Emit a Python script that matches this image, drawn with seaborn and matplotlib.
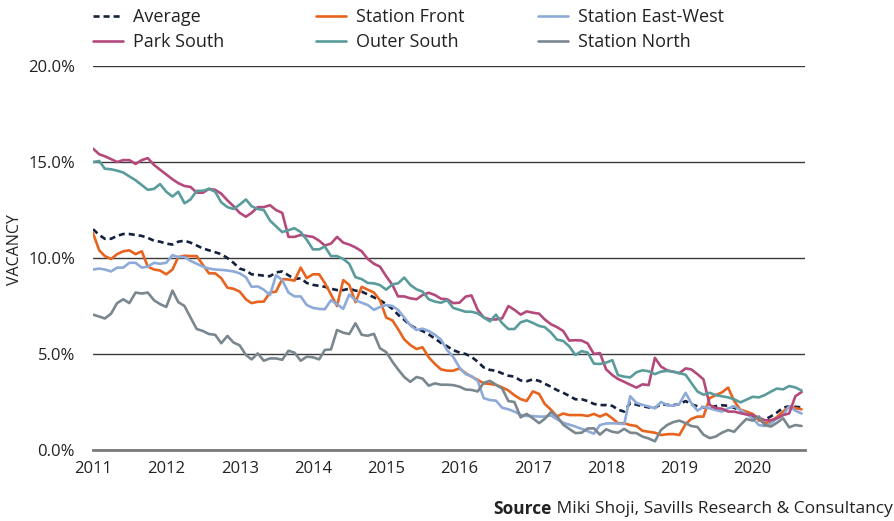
import matplotlib
matplotlib.use("Agg")
from matplotlib import pyplot as plt
import matplotlib.dates as mdates
from matplotlib.ticker import FuncFormatter
import seaborn as sns
import pandas as pd

# monthly observations, Jan 2011 - Sep 2020 (vacancy, %)
months = pd.date_range("2011-01-01", periods=117, freq="MS")

average = [
    11.5, 11.2, 11.0, 11.0, 11.15, 11.25, 11.25, 11.2, 11.15, 11.05, 10.9, 10.85,
    10.75, 10.7, 10.85, 10.9, 10.8, 10.65, 10.5, 10.4, 10.3, 10.2, 10.0, 9.75,
    9.45, 9.35, 9.15, 9.12, 9.08, 9.05, 9.25, 9.3, 9.1, 8.9, 8.95, 8.7,
    8.6, 8.55, 8.5, 8.4, 8.33, 8.33, 8.4, 8.3, 8.25, 8.1, 7.95, 7.8,
    7.6, 7.35, 7.05, 6.78, 6.5, 6.32, 6.2, 6.02, 5.8, 5.58, 5.4, 5.2,
    5.08, 5.0, 4.85, 4.6, 4.3, 4.17, 4.13, 3.99, 3.87, 3.82, 3.62, 3.58,
    3.68, 3.6, 3.45, 3.3, 3.12, 2.98, 2.82, 2.64, 2.64, 2.55, 2.4, 2.34,
    2.34, 2.3, 2.1, 2.0, 2.45, 2.36, 2.28, 2.22, 2.2, 2.38, 2.35, 2.34,
    2.38, 2.55, 2.38, 2.28, 2.22, 2.24, 2.28, 2.33, 2.3, 2.2, 2.05, 1.9,
    1.7, 1.55, 1.58, 1.75, 1.95, 2.2, 2.28, 2.25, 2.22,
]
station_front = [
    11.3, 10.4, 10.1, 9.95, 10.2, 10.35, 10.4, 10.2, 10.35, 9.55, 9.4, 9.35,
    9.15, 9.4, 10.05, 10.12, 10.1, 10.1, 9.65, 9.2, 9.2, 8.95, 8.45, 8.4,
    8.25, 7.85, 7.65, 7.72, 7.73, 8.2, 8.25, 8.9, 8.88, 8.82, 9.5, 8.95,
    9.15, 9.15, 8.7, 8.1, 7.5, 8.85, 8.6, 7.7, 8.5, 8.35, 8.2, 7.8,
    6.9, 6.75, 6.3, 5.76, 5.47, 5.26, 5.35, 4.83, 4.48, 4.2, 4.13, 4.13,
    4.25, 4.0, 3.82, 3.65, 3.47, 3.44, 3.39, 3.26, 3.1, 2.85, 2.65, 2.55,
    3.05, 2.92, 2.4, 2.1, 1.75, 1.9, 1.82, 1.82, 1.82, 1.77, 1.88, 1.74,
    1.88, 1.65, 1.4, 1.39, 1.3, 1.25, 1.0, 0.95, 0.9, 0.78, 0.82, 0.83,
    0.78, 1.35, 1.62, 1.74, 1.74, 2.7, 2.86, 3.0, 3.25, 2.55, 2.1, 2.0,
    1.88, 1.58, 1.38, 1.48, 1.72, 2.0, 2.25, 2.18, 2.12,
]
station_east_west = [
    9.4, 9.45, 9.4, 9.3, 9.5, 9.5, 9.75, 9.75, 9.5, 9.55, 9.75, 9.7,
    9.75, 10.15, 10.05, 10.05, 9.85, 9.7, 9.55, 9.45, 9.4, 9.38, 9.35, 9.3,
    9.2, 9.0, 8.5, 8.52, 8.35, 8.07, 9.1, 8.85, 8.2, 8.0, 8.0, 7.55,
    7.4, 7.35, 7.33, 7.8, 7.6, 7.35, 8.1, 7.8, 7.67, 7.55, 7.3, 7.45,
    7.55, 7.5, 7.3, 6.9, 6.5, 6.25, 6.32, 6.2, 6.0, 5.75, 5.2, 4.85,
    4.3, 3.95, 3.85, 3.6, 2.7, 2.6, 2.57, 2.2, 2.12, 2.0, 1.83, 1.77,
    1.77, 1.74, 1.74, 1.8, 1.6, 1.42, 1.32, 1.22, 1.1, 0.98, 0.85, 1.3,
    1.38, 1.39, 1.38, 1.35, 2.8, 2.45, 2.35, 2.27, 2.17, 2.5, 2.34, 2.3,
    2.4, 2.98, 2.45, 2.05, 2.25, 2.17, 2.08, 2.0, 2.17, 2.28, 2.08, 1.88,
    1.65, 1.3, 1.25, 1.38, 1.65, 1.82, 2.28, 2.05, 1.9,
]
park_south = [
    15.7, 15.4, 15.3, 15.15, 15.0, 15.1, 15.1, 14.9, 15.1, 15.2, 14.85, 14.6,
    14.35, 14.1, 13.9, 13.75, 13.7, 13.4, 13.4, 13.6, 13.55, 13.35, 13.0, 12.7,
    12.35, 12.15, 12.35, 12.65, 12.65, 12.75, 12.5, 12.35, 11.1, 11.1, 11.2, 11.15,
    11.1, 10.9, 10.65, 10.75, 11.1, 10.8, 10.7, 10.55, 10.35, 9.95, 9.7, 9.55,
    9.05, 8.6, 8.0, 8.0, 7.9, 7.85, 8.07, 8.19, 8.07, 7.88, 7.85, 7.65,
    7.67, 7.99, 8.05, 7.3, 6.9, 6.8, 6.8, 6.86, 7.5, 7.3, 7.05, 7.22,
    7.15, 7.1, 6.8, 6.55, 6.4, 6.2, 5.7, 5.72, 5.7, 5.55, 5.0, 5.05,
    4.2, 3.9, 3.7, 3.55, 3.4, 3.25, 3.42, 3.38, 4.8, 4.35, 4.15, 4.08,
    4.0, 4.25, 4.2, 3.95, 3.68, 2.35, 2.18, 2.15, 2.0, 2.0, 1.92, 1.85,
    1.82, 1.68, 1.55, 1.55, 1.65, 1.82, 1.9, 2.8, 3.02,
]
outer_south = [
    15.0, 15.05, 14.65, 14.62, 14.55, 14.45, 14.25, 14.05, 13.8, 13.55, 13.6, 13.85,
    13.45, 13.2, 13.45, 12.85, 13.05, 13.5, 13.5, 13.6, 13.45, 12.9, 12.65, 12.55,
    12.78, 13.05, 12.7, 12.55, 12.5, 11.95, 11.65, 11.35, 11.45, 11.55, 11.35, 10.95,
    10.45, 10.45, 10.6, 10.1, 10.1, 9.95, 9.7, 9.0, 8.9, 8.7, 8.68, 8.59,
    8.35, 8.63, 8.68, 8.98, 8.6, 8.37, 8.25, 7.85, 7.73, 7.67, 7.8, 7.4,
    7.3, 7.2, 7.2, 7.12, 6.9, 6.7, 7.05, 6.6, 6.3, 6.3, 6.65, 6.75,
    6.62, 6.46, 6.4, 6.12, 5.75, 5.68, 5.4, 4.95, 5.15, 5.07, 4.5, 4.48,
    4.55, 4.68, 3.9, 3.82, 3.78, 4.05, 4.15, 4.1, 3.95, 4.08, 4.12, 4.08,
    4.0, 3.92, 3.5, 3.05, 2.88, 2.98, 2.86, 2.8, 2.74, 2.64, 2.48, 2.62,
    2.77, 2.74, 2.86, 3.04, 3.2, 3.16, 3.33, 3.26, 3.1,
]
station_north = [
    7.05, 6.95, 6.85, 7.1, 7.65, 7.85, 7.65, 8.2, 8.15, 8.2, 7.8, 7.6,
    7.45, 8.3, 7.7, 7.5, 6.9, 6.3, 6.2, 6.04, 6.0, 5.56, 5.94, 5.6,
    5.45, 4.95, 4.72, 5.03, 4.65, 4.77, 4.77, 4.7, 5.17, 5.07, 4.65, 4.86,
    4.83, 4.72, 5.21, 5.24, 6.25, 6.11, 6.04, 6.6, 6.0, 5.95, 6.05, 5.3,
    5.1, 4.6, 4.2, 3.8, 3.55, 3.8, 3.72, 3.35, 3.47, 3.4, 3.4, 3.38,
    3.3, 3.15, 3.13, 3.05, 3.5, 3.6, 3.4, 3.2, 2.55, 2.5, 1.7, 1.88,
    1.65, 1.4, 1.62, 1.98, 1.75, 1.32, 1.1, 0.88, 0.9, 1.12, 1.13, 0.8,
    1.08, 0.95, 0.9, 1.1, 0.9, 0.88, 0.7, 0.6, 0.45, 1.04, 1.3, 1.45,
    1.53, 1.4, 1.25, 1.2, 0.8, 0.62, 0.7, 0.9, 1.04, 0.95, 1.3, 1.62,
    1.53, 1.75, 1.3, 1.22, 1.42, 1.65, 1.18, 1.3, 1.25,
]

year_ticks = pd.date_range("2011-01-01", "2020-01-01", freq="YS")
y_ticks = [0, 5, 10, 15, 20]

series = [
    ("Average", average, "#14213D", (0, (2.3, 1.5))),
    ("Station Front", station_front, "#E8641E", "-"),
    ("Station East-West", station_east_west, "#8EAAD8", "-"),
    ("Park South", park_south, "#B4497B", "-"),
    ("Outer South", outer_south, "#5A9B9B", "-"),
    ("Station North", station_north, "#7A878F", "-"),
]

sns.set_theme(style="white")
plt.rcParams["font.family"] = ["Open Sans", "DejaVu Sans"]

W, H = 895, 521
fig = plt.figure(figsize=(W / 100, H / 100), dpi=100)
ax = fig.add_axes([93 / W, 1 - 450 / H, (805 - 93) / W, (450 - 66) / H])

handles = {}
for name, vals, color, ls in series:
    sns.lineplot(x=months, y=vals, ax=ax, color=color, linewidth=1.9,
                 linestyle=ls, label=name, legend=False)
    handles[name] = ax.lines[-1]

ax.set_ylim(0, 20)
ax.set_yticks(y_ticks)
ax.yaxis.set_major_formatter(FuncFormatter(lambda v, p: f"{v:.1f}%"))
ax.set_xlim(pd.Timestamp("2011-01-01"), pd.Timestamp("2020-09-18"))
ax.set_xticks(year_ticks)
ax.xaxis.set_major_formatter(mdates.DateFormatter("%Y"))
ax.set_xlabel("")
ax.set_ylabel("")

ax.grid(axis="y", color="#3a3a3a", linewidth=1.0)
ax.grid(axis="x", visible=False)
for s in ["top", "left", "right"]:
    ax.spines[s].set_visible(False)
ax.spines["bottom"].set_color("#7a7a7a")
ax.spines["bottom"].set_linewidth(2.0)
ax.tick_params(axis="y", length=0, pad=13, labelsize=12, labelcolor="#222222")
ax.tick_params(axis="x", length=0, pad=8, labelsize=12, labelcolor="#222222")

fig.text(15 / W, 1 - 250 / H, "VACANCY", rotation=90, ha="center", va="center",
         fontsize=11.5, color="#222222")

# legend: three columns of two entries each
columns = [("Average", "Park South"), ("Station Front", "Outer South"),
           ("Station East-West", "Station North")]
col_x = [93, 316, 538]
for names, cx in zip(columns, col_x):
    fig.legend([handles[n] for n in names], list(names), loc="upper left",
               bbox_to_anchor=(cx / W, 1 - 8 / H), frameon=False, fontsize=13,
               handlelength=1.65, handletextpad=0.55, labelspacing=0.4,
               borderpad=0, borderaxespad=0, labelcolor="#222222")

src = fig.text(893 / W, 1 - 509 / H, " Miki Shoji, Savills Research & Consultancy",
               ha="right", va="center", fontsize=12.5, color="#222222")
fig.canvas.draw()
bb = src.get_window_extent()
fig.text(bb.x0 / W, 1 - 509 / H, "Source", ha="right", va="center",
         fontsize=12.5, fontweight="bold", color="#222222")

fig.savefig("out.png", dpi=100)
plt.close(fig)
